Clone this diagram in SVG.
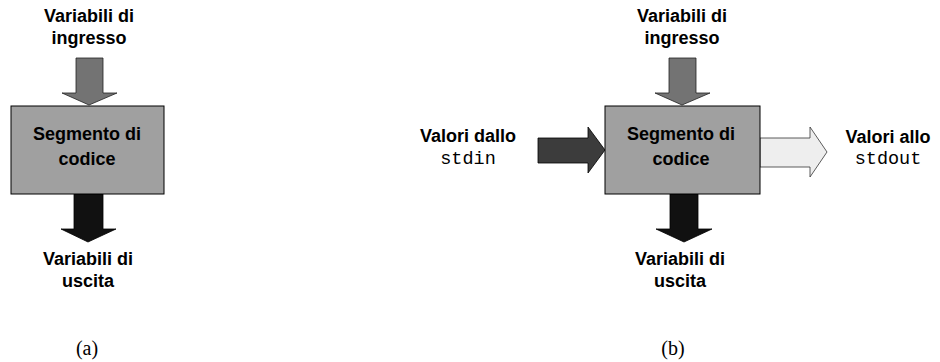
<svg xmlns="http://www.w3.org/2000/svg" width="940" height="362" viewBox="0 0 940 362">
<style>
.lbl{font-family:"Liberation Sans",Arial,sans-serif;font-weight:bold;font-size:18px;fill:#000;text-anchor:middle}
.mono{font-family:"Liberation Mono","Courier New",monospace;font-size:18.5px;fill:#000;text-anchor:middle}
.cap{font-family:"Liberation Serif","Times New Roman",serif;font-size:20px;fill:#000;text-anchor:middle}
.box{fill:#a0a0a0;stroke:#000;stroke-width:1}
.ain{fill:#737373;stroke:#222;stroke-width:0.8}
.aout{fill:#111;stroke:#000;stroke-width:0.8}
.astdin{fill:#3c3c3c;stroke:#000;stroke-width:0.8}
.astdout{fill:#eeeeee;stroke:#333;stroke-width:0.8}
</style>
<rect width="940" height="362" fill="#fff"/>
<g id="connectors">
  <polygon class="ain" points="76,58 103,58 103,93 117,93 89,105 62,93 76,93"/>
  <polygon class="aout" points="74,194 103,194 103,229 116,229 88,242 61,229 74,229"/>
  <polygon class="ain" points="669,58 696,58 696,93 710,93 682,105 655,93 669,93"/>
  <polygon class="aout" points="670,194 698,194 698,229 712,229 684,242 656,229 670,229"/>
  <polygon class="astdin" points="538,138 588,138 588,127 605,150 588,173 588,163 538,163"/>
  <polygon class="astdout" points="760,138 810,138 810,127 827,152 810,177 810,167 760,167"/>
</g>
<g id="a-input">
  <text class="lbl" x="89" y="22">Variabili di</text>
  <text class="lbl" x="89" y="44">ingresso</text>
</g>
<g id="a-segment">
  <rect class="box" x="11" y="106" width="153" height="88"/>
  <text class="lbl" x="87" y="140">Segmento di</text>
  <text class="lbl" x="87" y="165">codice</text>
</g>
<g id="a-output">
  <text class="lbl" x="88" y="265">Variabili di</text>
  <text class="lbl" x="88" y="287">uscita</text>
</g>
<g id="a-caption"><text class="cap" x="87" y="355">(a)</text></g>
<g id="b-input">
  <text class="lbl" x="682" y="22">Variabili di</text>
  <text class="lbl" x="682" y="44">ingresso</text>
</g>
<g id="b-segment">
  <rect class="box" x="605" y="106" width="155" height="88"/>
  <text class="lbl" x="681" y="140">Segmento di</text>
  <text class="lbl" x="681" y="165">codice</text>
</g>
<g id="b-stdin">
  <text class="lbl" x="468" y="142">Valori dallo</text>
  <text class="mono" x="468" y="164">stdin</text>
</g>
<g id="b-stdout">
  <text class="lbl" x="888" y="143">Valori allo</text>
  <text class="mono" x="888" y="164">stdout</text>
</g>
<g id="b-output">
  <text class="lbl" x="680" y="265">Variabili di</text>
  <text class="lbl" x="680" y="287">uscita</text>
</g>
<g id="b-caption"><text class="cap" x="673" y="355">(b)</text></g>
</svg>
